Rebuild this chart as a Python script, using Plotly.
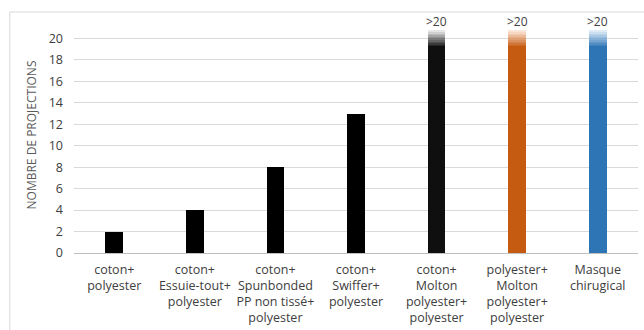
import plotly.graph_objects as go

categories = [
    "coton+<br>polyester",
    "coton+<br>Essuie-tout+<br>polyester",
    "coton+<br>Spunbonded<br>PP non tissé+<br>polyester",
    "coton+<br>Swiffer+<br>polyester",
    "coton+<br>Molton<br>polyester+<br>polyester",
    "polyester+<br>Molton<br>polyester+<br>polyester",
    "Masque<br>chirugical",
]
values = [2, 4, 8, 13, 20.8, 20.8, 20.8]
labels = ["", "", "", "", ">20", ">20", ">20"]
colors = ["#000000", "#000000", "#000000", "#000000", "#0f0f0f", "#C55A11", "#2E75B6"]
fade_colors = ["#000000", "#000000", "#000000", "#000000", "#e6e6e6", "#fbe5d6", "#deebf7"]

FADE_START = 19.3
N_SEG = 10


def hex2rgb(h):
    h = h.lstrip("#")
    return [int(h[i:i + 2], 16) for i in (0, 2, 4)]


def mix(a, b, t):
    ra, rb = hex2rgb(a), hex2rgb(b)
    return "rgb(%d,%d,%d)" % tuple(round(ra[i] + (rb[i] - ra[i]) * t) for i in range(3))


fig = go.Figure()
idx = list(range(len(categories)))

solid = [v if v <= 20 else FADE_START for v in values]
fig.add_trace(go.Bar(x=idx, y=solid, marker=dict(color=colors, line=dict(width=0)),
                     hoverinfo="skip", showlegend=False))
for s in range(N_SEG):
    t = (s + 1) / N_SEG
    seg = [(v - FADE_START) / N_SEG if v > 20 else 0 for v in values]
    cols = [mix(colors[i], fade_colors[i], t) for i in idx]
    fig.add_trace(go.Bar(x=idx, y=seg, marker=dict(color=cols, line=dict(width=0)),
                         hoverinfo="skip", showlegend=False))

for i, (v, lab) in enumerate(zip(values, labels)):
    if lab:
        fig.add_annotation(x=i, y=v, text=lab, showarrow=False, yanchor="bottom",
                           yshift=-2, font=dict(size=12, color="#404040",
                                                family="Open Sans"))

L, R, T, B = 73.75, 6.25, 16.5, 77
W, H = 644, 330
pw, ph = W - L - R, H - T - B
bx = (9.5 - L) / pw
ty = (H - B - 11.5) / ph
fig.add_shape(type="line", xref="paper", yref="paper", x0=bx, x1=bx, y0=-0.6, y1=ty,
              line=dict(color="#d9d9d9", width=1), layer="above")
fig.add_shape(type="line", xref="paper", yref="paper", x0=bx, x1=1.3, y0=ty, y1=ty,
              line=dict(color="#d9d9d9", width=1), layer="above")

fig.update_layout(
    width=W, height=H,
    margin=dict(l=L, r=R, t=T, b=B, autoexpand=False),
    barmode="stack", bargap=0.78,
    paper_bgcolor="white", plot_bgcolor="white",
    font=dict(family="Open Sans", color="#404040"),
    xaxis=dict(tickmode="array", tickvals=idx, ticktext=categories,
               range=[-0.5, len(categories) - 0.5], automargin=False,
               showgrid=False, showline=False, zeroline=False, ticks="",
               tickfont=dict(size=12.5, color="#404040"), ticklabelstandoff=7),
    yaxis=dict(range=[0, 22], tickvals=list(range(0, 21, 2)), automargin=False,
               showgrid=True, gridcolor="#d9d9d9", gridwidth=1,
               zeroline=True, zerolinecolor="#bfbfbf", zerolinewidth=1,
               showline=False, ticks="",
               tickfont=dict(size=12.5, color="#404040"), ticklabelstandoff=10,
               title=dict(text="NOMBRE DE PROJECTIONS", standoff=9,
                          font=dict(size=12, color="#595959"))),
)

fig.write_html("out.html", config={"displayModeBar": False},
               post_script="document.body.style.margin='0';document.body.style.overflow='hidden';")
